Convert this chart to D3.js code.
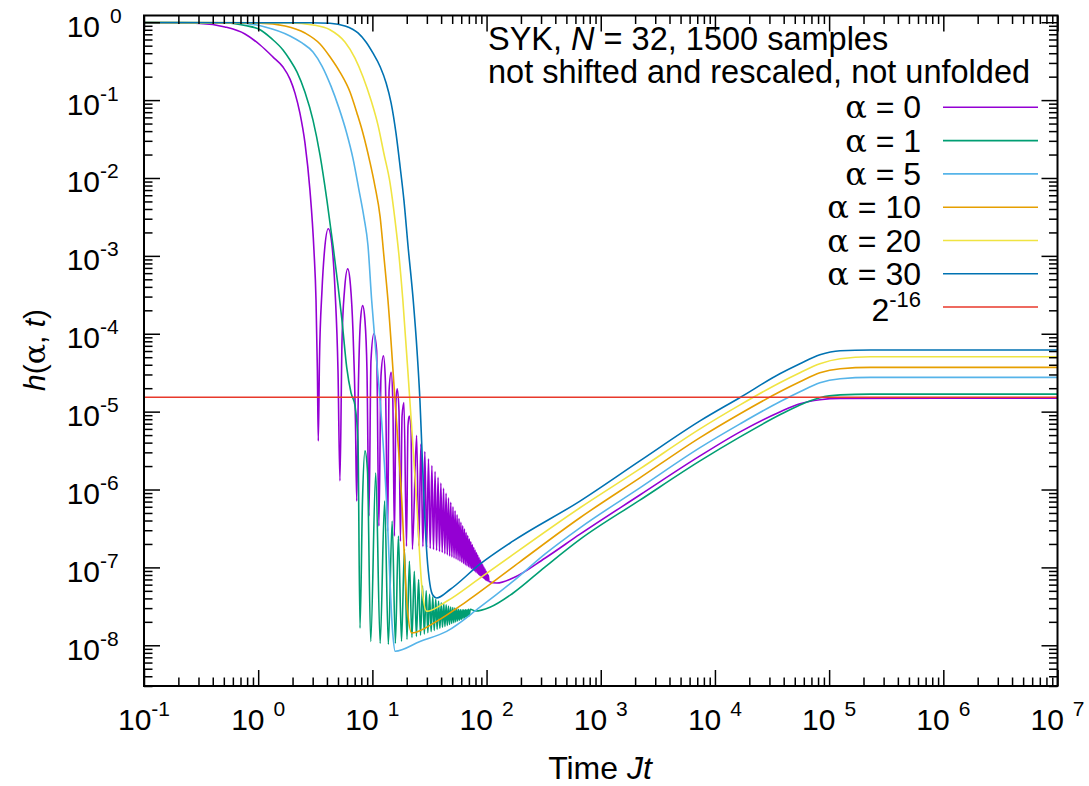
<!DOCTYPE html>
<html>
<head>
<meta charset="utf-8">
<script src="https://cdn.jsdelivr.net/npm/d3@7"></script>
<style>
  body { margin: 0; background: #fff; }
  svg { display: block; font-family: "Liberation Sans", Arial, sans-serif; }
</style>
</head>
<body>
<div id="chart"></div>
<script>
// ---- data: [t, h] ----
const alpha0 = [
  [0.1,0.99],[0.309,0.965],[0.512,0.87],[0.766,0.707],[1.04,0.51],[1.35,0.357],[1.65,0.266],[1.90,0.186],
  [2.10,0.123],[2.32,0.068],[2.57,0.028],[2.84,6.95e-3],[3.08,1.17e-3],[3.21,2.67e-4],[3.30,3.35e-5],[3.36,4.2e-6],
  [3.44,4.5e-5],[3.62,3.6e-4],[3.81,1.17e-3],[4.11,2.23e-3],[4.43,1.36e-3],[4.71,3.6e-4],[5.0,3.35e-5],[5.2,1.29e-6],
  [5.42,8.1e-5],[5.70,3.6e-4],[6.08,6.8e-4],[6.43,4.16e-4],[6.76,1.1e-4],[7.11,7.6e-6],[7.29,7.1e-7],
  [7.56,2.5e-5],[7.87,1.48e-4],[8.22,2.3e-4],[8.61,1.48e-4],[8.97,3.35e-5],[9.34,4.56e-7],
  [9.72,4.5e-5],[10.3,1.0e-4],[10.9,6.1e-5],[11.4,3.39e-7],
  [11.9,2.9e-5],[12.5,5.2e-5],[13.0,2.5e-5],[13.6,2.92e-7],
  [14.0,1.85e-5],[14.6,3.19e-5],[15.1,1.38e-5],[15.6,2.52e-7],
  [16.1,1.38e-5],[16.5,1.97e-5],[17.1,1.02e-5],[17.6,2.17e-7],
  [18.2,8.8e-6],[18.9,1.31e-5],[19.9,1.87e-7],
  [20.5,6.6e-6],[21.0,8.8e-6],[21.8,6.0e-6],[22.4,1.71e-7],
  [24.4,4.95e-6],[25.5,1.9e-7],[26.6,3.84e-6],[27.7,1.85e-7],[28.8,3.07e-6],[29.9,1.8e-7],
  [31.0,2.48e-6],[32.1,1.75e-7],[33.2,2.03e-6],[34.3,1.7e-7],[35.4,1.70e-6],[36.5,1.65e-7],
  [37.6,1.43e-6],[38.7,1.6e-7],[39.8,1.21e-6],[40.9,1.55e-7],[42.0,1.04e-6],[43.1,1.5e-7],
  [44.2,8.96e-7],[45.3,1.45e-7],[46.4,7.8e-7],[47.5,1.4e-7],[48.6,6.84e-7],[49.7,1.36e-7],
  [50.8,6.01e-7],[51.9,1.32e-7],[53.0,5.32e-7],[54.1,1.28e-7],[55.2,4.74e-7],[56.3,1.24e-7],
  [57.4,4.25e-7],[58.5,1.2e-7],[59.6,3.8e-7],[60.7,1.16e-7],[61.8,3.42e-7],[62.9,1.12e-7],
  [64.0,3.1e-7],[65.1,1.08e-7],[66.2,2.81e-7],[67.3,1.05e-7],[68.4,2.56e-7],[69.5,1.02e-7],
  [70.6,2.33e-7],[71.7,9.9e-8],[72.8,2.15e-7],[73.9,9.6e-8],[75.0,1.96e-7],[76.1,9.3e-8],
  [77.2,1.81e-7],[78.3,9.0e-8],[79.4,1.67e-7],[80.5,8.7e-8],[81.6,1.55e-7],[82.7,8.4e-8],
  [83.8,1.44e-7],[84.9,8.1e-8],[86.0,1.33e-7],[87.1,7.9e-8],[88.2,1.24e-7],[89.3,7.7e-8],
  [90.4,1.16e-7],[91.5,7.5e-8],[92.6,1.08e-7],[93.7,7.3e-8],[94.8,1.01e-7],[95.9,7.1e-8],
  [97.0,9.5e-8],[98.1,6.9e-8],[99.2,8.9e-8],[100.3,6.8e-8],[101.4,8.35e-8],[102.5,6.7e-8],
  [103.6,7.9e-8],[105,6.6e-8],
  [123,6.3e-8],[170,7.3e-8],[324,1.31e-7],[658,2.67e-7],[2200,8.5e-7],[7400,2.7e-6],
  [16600,5.5e-6],[37000,9.9e-6],[55500,1.26e-5],[83000,1.42e-5],[125000,1.48e-5],[1e7,1.49e-5]
];
const alpha1 = [
  [0.1,0.99],[0.533,0.98],[0.766,0.91],[1.04,0.80],[1.32,0.61],[1.65,0.44],[1.90,0.327],[2.19,0.229],
  [2.57,0.126],[3.02,0.0553],[3.48,0.0196],[4.0,5.16e-3],[4.52,1.36e-3],[5.0,4.16e-4],[5.42,1.48e-4],
  [5.96,3.7e-5],[6.50,1.75e-5],[7.04,1.19e-5],[7.48,4.2e-6],[7.79,1.66e-8],
  [8.19,7.1e-7],[8.61,3.13e-6],[9.06,1.73e-6],[9.67,1.12e-8],
  [10.7,1.63e-6],[11.7,1.06e-8],[12.8,7.1e-7],[13.8,1.03e-8],[14.9,3.93e-7],[15.9,1.06e-8],
  [16.9,2.52e-7],[18.0,1.12e-8],[19.1,1.71e-7],[20.1,1.19e-8],[21.1,1.2e-7],[22.2,1.26e-8],
  [23.3,8.9e-8],[24.3,1.3e-8],[25.4,7.0e-8],[26.4,1.35e-8],[27.5,5.8e-8],[28.5,1.4e-8],
  [29.6,5.0e-8],[30.6,1.45e-8],[31.7,4.5e-8],[32.7,1.5e-8],[33.8,4.2e-8],[34.8,1.55e-8],
  [35.9,3.9e-8],[36.9,1.6e-8],[38.0,3.7e-8],[39.0,1.65e-8],[40.1,3.5e-8],[41.1,1.7e-8],
  [42.2,3.4e-8],[43.2,1.75e-8],[44.3,3.3e-8],[45.3,1.8e-8],[46.4,3.2e-8],[47.4,1.85e-8],
  [48.5,3.1e-8],[49.5,1.9e-8],[50.6,3.05e-8],[51.6,1.95e-8],[52.7,3.0e-8],[53.7,2.0e-8],
  [54.8,2.95e-8],[55.8,2.05e-8],[56.9,2.9e-8],[57.9,2.1e-8],[59.0,2.85e-8],[60.0,2.15e-8],
  [61.1,2.85e-8],[62.1,2.2e-8],[63.2,2.85e-8],[64.2,2.25e-8],[65.3,2.85e-8],[66.3,2.3e-8],
  [67.4,2.85e-8],[68.4,2.35e-8],[69.5,2.9e-8],[70.5,2.4e-8],[72,2.9e-8],[80,2.75e-8],
  [107,3.08e-8],[170,4.66e-8],[324,1.01e-7],[658,2.29e-7],[2200,7.3e-7],[7400,2.33e-6],
  [16600,4.74e-6],[37000,9.1e-6],[55500,1.22e-5],[83000,1.51e-5],[125000,1.64e-5],[230000,1.68e-5],[1e7,1.68e-5]
];
const alpha5 = [
  [0.1,0.99],[0.69,0.974],[1.15,0.87],[1.90,0.667],[2.42,0.542],[3.02,0.415],[3.62,0.274],[4.34,0.151],
  [5.1,0.0789],[5.96,0.0376],[6.76,0.0179],[7.64,6.95e-3],[8.44,3.12e-3],[9.15,1.36e-3],[9.86,2.67e-4],
  [10.7,6.1e-5],[11.7,1.38e-5],[13.3,7.1e-7],[15.1,1.38e-8],[15.8,8.4e-9],
  [26.1,1.12e-8],[44.7,1.51e-8],[87.5,3.08e-8],[170,6.6e-8],[324,1.48e-7],[658,3.22e-7],
  [2200,1.05e-6],[7400,3.45e-6],[16600,6.97e-6],[37000,1.34e-5],[55500,1.8e-5],[83000,2.35e-5],
  [125000,2.64e-5],[230000,2.75e-5],[1e7,2.75e-5]
];
const alpha10 = [
  [0.1,0.99],[1.04,0.974],[1.72,0.896],[2.57,0.728],[3.48,0.526],[4.25,0.361],[5.2,0.229],[6.37,0.127],
  [7.33,0.068],[8.27,0.0376],[9.53,0.0159],[10.5,8.05e-3],[11.7,3.15e-3],[12.6,1.01e-3],[13.7,2.67e-4],
  [15.8,1.38e-5],[18.1,7.1e-7],[20.0,3.67e-8],[22.1,1.44e-8],
  [36.5,2.03e-8],[67.0,3.67e-8],[196,1.18e-7],[658,4.34e-7],[2200,1.41e-6],[7400,4.64e-6],
  [16600,9.4e-6],[37000,1.8e-5],[55500,2.42e-5],[83000,3.16e-5],[125000,3.56e-5],[230000,3.7e-5],[1e7,3.7e-5]
];
const alpha20 = [
  [0.1,0.99],[1.90,0.98],[3.02,0.923],[4.25,0.80],[5.75,0.557],[7.04,0.347],[8.27,0.2],[9.72,0.1],
  [11.2,0.0477],[12.6,0.0208],[14.3,8.55e-3],[15.8,2.86e-3],[17.1,1.01e-3],[18.5,2.67e-4],
  [21.3,1.38e-5],[24.4,7.1e-7],[27.0,6.1e-8],[29.9,2.73e-8],
  [44.7,3.67e-8],[87.5,7.3e-8],[658,5.83e-7],[2200,1.84e-6],[7400,6.0e-6],[16600,1.22e-5],
  [37000,2.35e-5],[55500,3.16e-5],[83000,4.12e-5],[125000,4.78e-5],[230000,5.07e-5],[1e7,5.07e-5]
];
const alpha30 = [
  [0.1,0.99],[2.84,0.985],[4.25,0.97],[5.75,0.896],[7.48,0.728],[8.79,0.557],[10.1,0.403],[11.7,0.268],
  [13.2,0.166],[14.6,0.0914],[16.1,0.0376],[17.5,0.0139],[18.9,5.16e-3],[20.5,1.36e-3],[22.8,2.67e-4],
  [24.6,6.1e-5],[26.1,1.38e-5],[27.2,3.13e-6],[28.6,5.3e-7],[30.1,1.39e-7],[31.9,6.1e-8],
  [33.9,4.38e-8],[36.5,4.05e-8],[47.9,5.2e-8],[87.5,1.1e-7],[170,2.17e-7],[658,7.1e-7],[2200,2.33e-6],
  [7400,7.6e-6],[16600,1.52e-5],[37000,3.06e-5],[55500,4.12e-5],[83000,5.38e-5],
  [125000,6.06e-5],[230000,6.19e-5],[1e7,6.19e-5]
];
const seriesData = [alpha0, alpha1, alpha5, alpha10, alpha20, alpha30];
const seriesAlpha = ["0", "1", "5", "10", "20", "30"];
const seriesColors = ["#9400d3", "#009e73", "#56b4e9", "#e69f00", "#f0e442", "#0072b2"];
const refLevel = Math.pow(2, -16);
const refColor = "#e8392b";
const xExponents = [-1, 0, 1, 2, 3, 4, 5, 6, 7];
const yExponents = [0, -1, -2, -3, -4, -5, -6, -7, -8];

const width = 1089, height = 786;
const svg = d3.select("#chart").append("svg")
    .attr("width", width)
    .attr("height", height);

const x = d3.scaleLog().domain([0.1, 1e7]).range([144, 1057.5]);
const y = d3.scaleLog().domain([3e-9, 1.22]).range([686, 15.5]);

// minor ticks 2..9 in every decade inside the domain
function minors(scale) {
    const [a, b] = scale.domain();
    const out = [];
    for (let e = Math.floor(Math.log10(a)); e <= Math.ceil(Math.log10(b)); e++) {
        for (let m = 2; m <= 9; m++) {
            const v = m * Math.pow(10, e);
            if (v > a && v < b) out.push(v);
        }
    }
    return out;
}

// curves
const line = d3.line()
    .x(d => x(d[0]))
    .y(d => y(d[1]))
    .curve(d3.curveMonotoneX);

svg.append("defs").append("clipPath").attr("id", "clip")
  .append("rect").attr("x", 144).attr("y", 15.5).attr("width", 913.5).attr("height", 670.5);

const curves = svg.append("g").attr("clip-path", "url(#clip)");
seriesData.forEach((data, i) => {
    curves.append("path")
        .datum(data)
        .attr("d", line)
        .attr("fill", "none")
        .attr("stroke", seriesColors[i])
        .attr("stroke-width", 1.6)
        .attr("stroke-linejoin", "round");
});
curves.append("line")
    .attr("x1", x(0.1)).attr("x2", x(1e7))
    .attr("y1", y(refLevel)).attr("y2", y(refLevel))
    .attr("stroke", refColor).attr("stroke-width", 1.5);

// axes (ticks inward, mirrored on all four sides)
const xMaj = xExponents.map(e => Math.pow(10, e));
const yMaj = yExponents.map(e => Math.pow(10, e));
const axes = svg.append("g");
function tickGroup(axisFn, scale, vals, len, transform) {
    const g = axes.append("g").attr("transform", transform)
        .call(axisFn(scale).tickValues(vals).tickSizeInner(-len).tickSizeOuter(0).tickFormat(""));
    g.select(".domain").remove();
    g.selectAll(".tick line").attr("stroke", "#000").attr("stroke-width", 1.5);
}
tickGroup(d3.axisBottom, x, xMaj, 16, "translate(0,686)");
tickGroup(d3.axisBottom, x, minors(x), 8.5, "translate(0,686)");
tickGroup(d3.axisTop, x, xMaj, 16, "translate(0,15.5)");
tickGroup(d3.axisTop, x, minors(x), 8.5, "translate(0,15.5)");
tickGroup(d3.axisLeft, y, yMaj, 16, "translate(144,0)");
tickGroup(d3.axisLeft, y, minors(y), 8.5, "translate(144,0)");
tickGroup(d3.axisRight, y, yMaj, 16, "translate(1057.5,0)");
tickGroup(d3.axisRight, y, minors(y), 8.5, "translate(1057.5,0)");

svg.append("rect")
    .attr("x", 144).attr("y", 15.5).attr("width", 913.5).attr("height", 670.5)
    .attr("fill", "none").attr("stroke", "#000").attr("stroke-width", 2);

// tick labels
const labels = svg.append("g").attr("fill", "#000");
xExponents.forEach(e => {
    const t = labels.append("text")
        .attr("x", x(Math.pow(10, e))).attr("y", 730)
        .attr("text-anchor", "middle")
        .style("font-size", "30px");
    t.append("tspan").text("10");
    t.append("tspan").attr("dx", e >= 0 ? 9 : 0).attr("dy", -14)
        .style("font-size", "21px").text(e);
});
yExponents.forEach(e => {
    const yy = y(Math.pow(10, e));
    labels.append("text")
        .attr("x", 100).attr("y", yy + 14.5)
        .attr("text-anchor", "end")
        .style("font-size", "30px")
        .text("10");
    labels.append("text")
        .attr("x", e >= 0 ? 110 : 100).attr("y", yy + 0.5)
        .style("font-size", "21px")
        .text(e);
});

// axis titles
const xt = labels.append("text").attr("x", 600).attr("y", 779)
    .attr("text-anchor", "middle").style("font-size", "32px");
xt.append("tspan").text("Time ");
xt.append("tspan").style("font-style", "italic").text("Jt");

const yt = labels.append("text").attr("transform", "translate(45,350) rotate(-90)")
    .attr("text-anchor", "middle").style("font-size", "30px");
yt.append("tspan").style("font-style", "italic").text("h");
yt.append("tspan").text("(");
yt.append("tspan").style("font-family", "'DejaVu Serif', serif").text("α");
yt.append("tspan").text(", ");
yt.append("tspan").style("font-style", "italic").text("t");
yt.append("tspan").text(")");

// title lines
const t1 = labels.append("text").attr("x", 488).attr("y", 50).style("font-size", "32.5px");
t1.append("tspan").text("SYK, ");
t1.append("tspan").style("font-style", "italic").text("N");
t1.append("tspan").text(" = 32, 1500 samples");
labels.append("text").attr("x", 488).attr("y", 83).style("font-size", "32.5px")
    .text("not shifted and rescaled, not unfolded");

// legend
const legend = svg.append("g");
const rowY = i => 107.3 + i * 33.3;
seriesAlpha.forEach((a, i) => {
    const t = legend.append("text").attr("x", 921).attr("y", rowY(i) + 11)
        .attr("text-anchor", "end").style("font-size", "32px");
    t.append("tspan").style("font-family", "'DejaVu Serif', serif").text("α");
    t.append("tspan").text(" = " + a);
    legend.append("line").attr("x1", 943).attr("x2", 1038)
        .attr("y1", rowY(i)).attr("y2", rowY(i))
        .attr("stroke", seriesColors[i]).attr("stroke-width", 1.6);
});
const rt = legend.append("text").attr("x", 921).attr("y", rowY(6) + 14)
    .attr("text-anchor", "end").style("font-size", "32px");
rt.append("tspan").text("2");
rt.append("tspan").attr("dy", -14).style("font-size", "22px").text("-16");
legend.append("line").attr("x1", 943).attr("x2", 1038)
    .attr("y1", rowY(6)).attr("y2", rowY(6))
    .attr("stroke", refColor).attr("stroke-width", 1.5);
</script>
</body>
</html>
